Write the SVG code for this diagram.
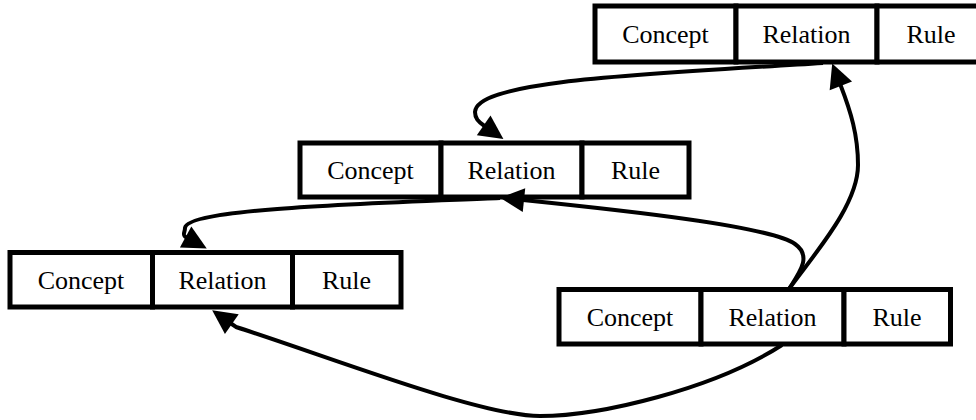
<svg xmlns="http://www.w3.org/2000/svg" width="976" height="420" viewBox="0 0 976 420">
  <style>
    .cell { fill: #fff; stroke: #000; stroke-width: 5; }
    .lbl { font-family: "Liberation Serif", "Times New Roman", serif; font-size: 26px; fill: #000; text-anchor: middle; }
    .edge { fill: none; stroke: #000; stroke-width: 4; marker-end: url(#ah); }
  </style>
  <defs>
    <marker id="ah" markerUnits="userSpaceOnUse" markerWidth="30" markerHeight="30" refX="1" refY="12" orient="auto" overflow="visible">
      <path d="M0,0 L24,12 L0,24 z" fill="#000"/>
    </marker>
  </defs>

  <g id="node1" transform="translate(595,6)">
    <rect class="cell" x="0" y="0" width="141" height="56"/>
    <rect class="cell" x="141" y="0" width="141" height="56"/>
    <rect class="cell" x="282" y="0" width="108" height="56"/>
    <text class="lbl" x="70.5" y="37">Concept</text>
    <text class="lbl" x="211.5" y="37">Relation</text>
    <text class="lbl" x="336" y="37">Rule</text>
  </g>

  <g id="node2" transform="translate(300,143)">
    <rect class="cell" x="0" y="0" width="141" height="54"/>
    <rect class="cell" x="141" y="0" width="141" height="54"/>
    <rect class="cell" x="282" y="0" width="107" height="54"/>
    <text class="lbl" x="70.5" y="36">Concept</text>
    <text class="lbl" x="211.5" y="36">Relation</text>
    <text class="lbl" x="335.5" y="36">Rule</text>
  </g>

  <g id="node3" transform="translate(10,252.5)">
    <rect class="cell" x="0" y="0" width="142.5" height="54.5"/>
    <rect class="cell" x="142.5" y="0" width="140" height="54.5"/>
    <rect class="cell" x="282.5" y="0" width="108.5" height="54.5"/>
    <text class="lbl" x="71" y="36.5">Concept</text>
    <text class="lbl" x="212.5" y="36.5">Relation</text>
    <text class="lbl" x="336.5" y="36.5">Rule</text>
  </g>

  <g id="node4" transform="translate(559,289.5)">
    <rect class="cell" x="0" y="0" width="142" height="54.5"/>
    <rect class="cell" x="142" y="0" width="143" height="54.5"/>
    <rect class="cell" x="285" y="0" width="106.5" height="54.5"/>
    <text class="lbl" x="71" y="36.5">Concept</text>
    <text class="lbl" x="213.5" y="36.5">Relation</text>
    <text class="lbl" x="338" y="36.5">Rule</text>
  </g>

  <g id="connectors">
    <path class="edge" d="M823,63 C650,74 476,80 475,112 C475,118 478,121.5 484.5,126"/>
    <path class="edge" d="M789,289 C815,253 858,205 858,165 C858,135 850.7,111.4 840.5,85"/>
    <path class="edge" d="M789,289 C800,272 812,256 795,244 C770,226 620,210 523,200"/>
    <path class="edge" d="M500,198 C380,203 187,208 185,228 C185,233 181.5,234.8 186.5,237.5"/>
    <path class="edge" d="M782,345 C714,389 600,416 540,416 C480,416 330,357 236,327 L231,323.5"/>
  </g>
</svg>
